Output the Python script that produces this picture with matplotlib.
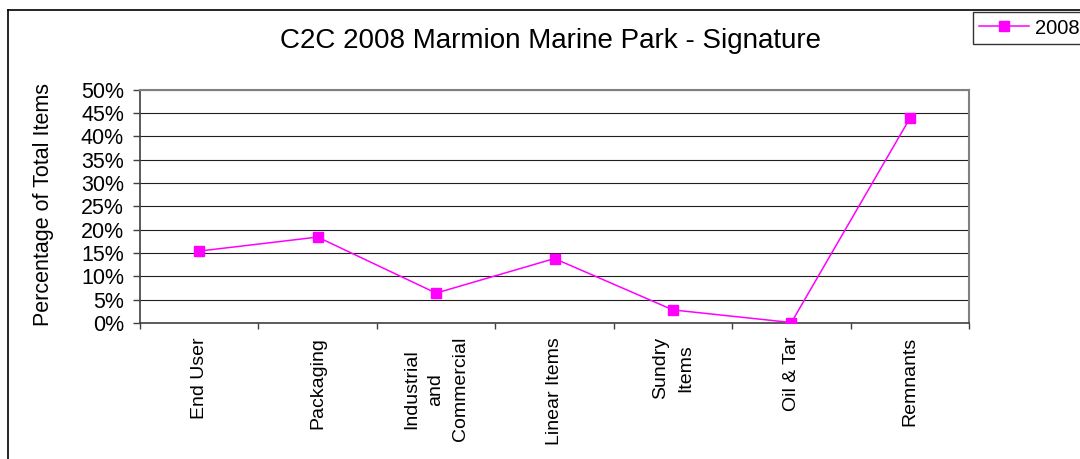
import matplotlib.pyplot as plt
from matplotlib.lines import Line2D
from matplotlib.ticker import FixedLocator, FuncFormatter

plt.rcParams['font.family'] = ['Liberation Sans', 'DejaVu Sans']

categories = ['End User', 'Packaging', 'Industrial\nand\nCommercial', 'Linear Items',
              'Sundry\nItems', 'Oil & Tar', 'Remnants']
pct_2008 = [15.4, 18.4, 6.4, 13.8, 2.8, 0.1, 43.8]
y_ticks = [0, 5, 10, 15, 20, 25, 30, 35, 40, 45, 50]

W, H = 1080, 459
fig = plt.figure(figsize=(W / 100, H / 100), dpi=100)
fig.patch.set_facecolor('white')

# outer chart frame (left and top edges visible)
fig.add_artist(Line2D([8 / W, 8 / W], [0, 1 - 10 / H], color='black', lw=1.2))
fig.add_artist(Line2D([8 / W, 1], [1 - 10 / H, 1 - 10 / H], color='black', lw=1.2))

ax = fig.add_axes([140 / W, 1 - 323 / H, (969 - 140) / W, (323 - 89.5) / H])
x = list(range(len(categories)))
ax.plot(x, pct_2008, color='#FF00FF', lw=1.1, marker='s', markersize=7,
        markerfacecolor='#FF00FF', markeredgecolor='#FF00FF', label='2008', zorder=3)

ax.set_xlim(-0.5, len(categories) - 0.5)
ax.set_ylim(0, 50)
ax.set_yticks(y_ticks)
ax.yaxis.set_major_formatter(FuncFormatter(lambda v, p: f'{v:.0f}%'))
ax.tick_params(axis='y', labelsize=15.5, length=5, width=1, color='#404040', pad=6.5)
ax.grid(axis='y', color='#202020', lw=0.8)
ax.set_axisbelow(True)

# category labels at centres, tick marks at the boundaries
ax.set_xticks(x)
ax.set_xticklabels(categories, rotation=90, ha='center', va='top',
                   multialignment='center', fontsize=14, linespacing=1.6)
ax.tick_params(axis='x', which='major', length=0, pad=10)
ax.xaxis.set_minor_locator(FixedLocator([i - 0.5 for i in range(len(categories) + 1)]))
ax.tick_params(axis='x', which='minor', length=4, width=1, color='#404040')

for side in ['left', 'bottom']:
    ax.spines[side].set_color('#404040')
    ax.spines[side].set_linewidth(1.2)
for side in ['top', 'right']:
    ax.spines[side].set_color('#808080')
    ax.spines[side].set_linewidth(1.5)

fig.text(44 / W, 1 - 204 / H, 'Percentage of Total Items', rotation=90,
         ha='center', va='center', fontsize=15.5)
fig.text(550 / W, 1 - 41 / H, 'C2C 2008 Marmion Marine Park - Signature',
         ha='center', va='center', fontsize=20)

leg = ax.legend(loc='upper left', bbox_to_anchor=(973 / W, 1 - 12 / H),
                bbox_transform=fig.transFigure, fontsize=14.5, frameon=True,
                fancybox=False, edgecolor='black', handlelength=2.5,
                borderpad=0.3, handletextpad=0.3, borderaxespad=0,
                handleheight=1.0)
leg.get_frame().set_linewidth(1)

fig.savefig('out.png', dpi=100)
